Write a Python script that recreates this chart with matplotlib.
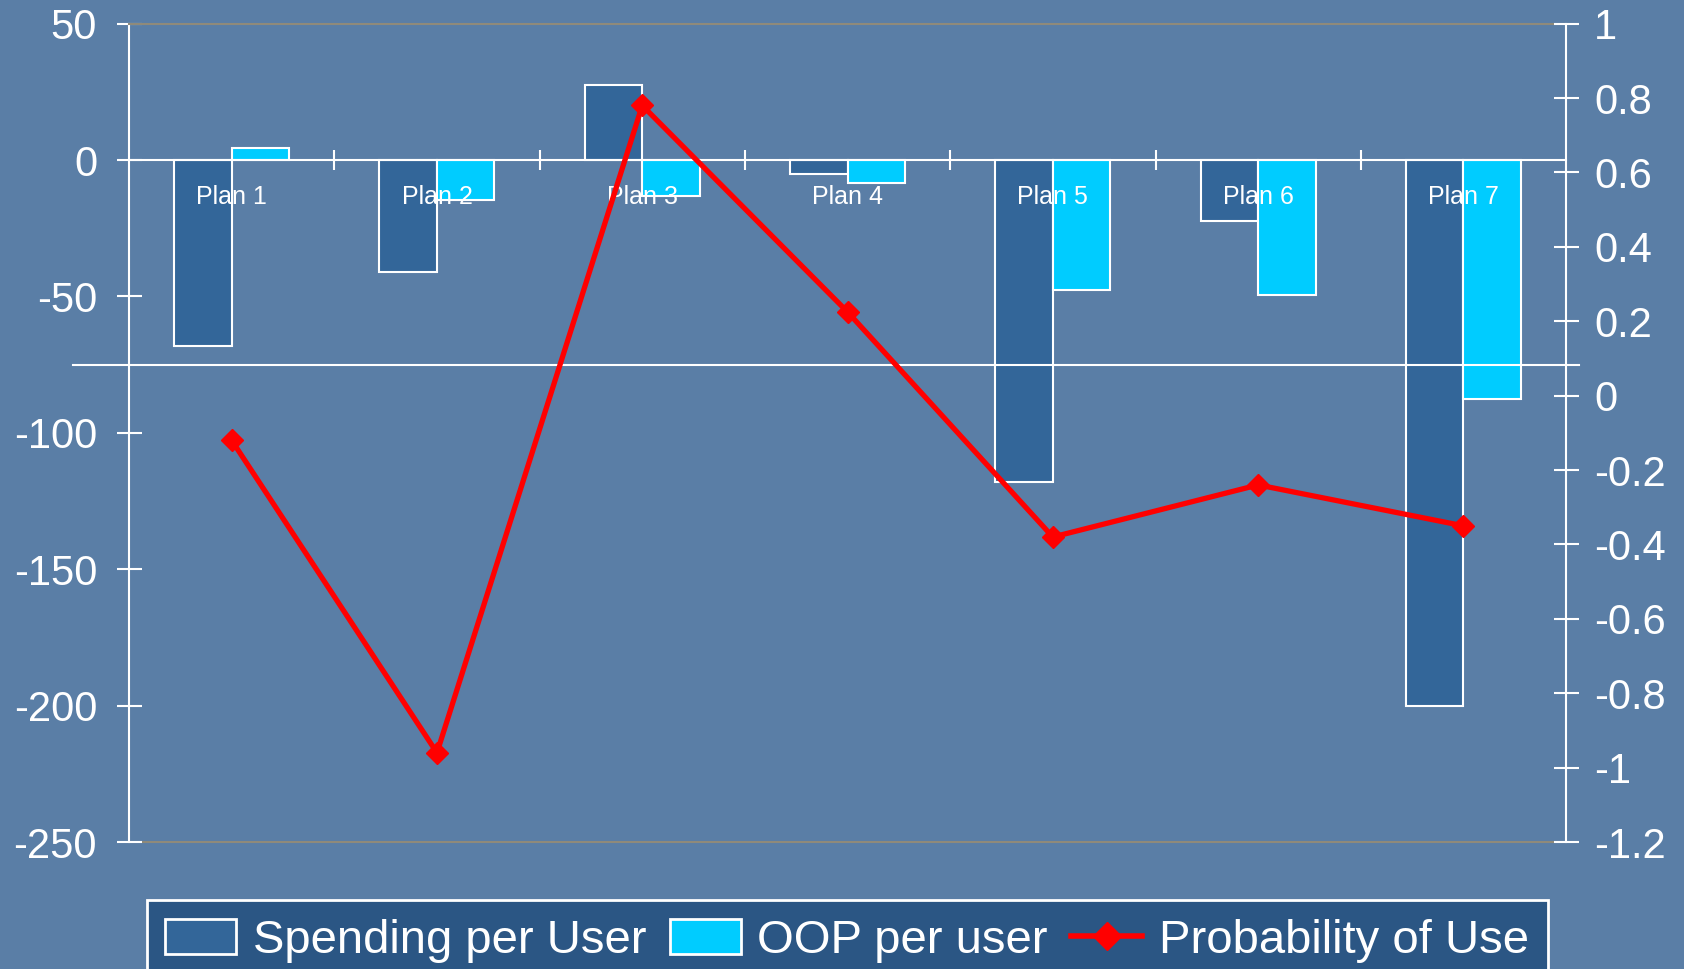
import matplotlib
matplotlib.use('Agg')
import matplotlib.pyplot as plt
import numpy as np
from matplotlib.lines import Line2D
from matplotlib.patches import Patch

plans = ['Plan 1', 'Plan 2', 'Plan 3', 'Plan 4', 'Plan 5', 'Plan 6', 'Plan 7']
spending = [-68, -41, 27.5, -5, -118, -22.5, -200]
oop = [4.5, -14.5, -13, -8.5, -47.5, -49.5, -87.5]
prob = [-0.12, -0.96, 0.78, 0.225, -0.38, -0.24, -0.35]
left_ticks = [50, 0, -50, -100, -150, -200, -250]
right_ticks = [1, 0.8, 0.6, 0.4, 0.2, 0, -0.2, -0.4, -0.6, -0.8, -1, -1.2]
series_names = ['Spending per User', 'OOP per user', 'Probability of Use']

plt.rcParams['font.family'] = ['Liberation Sans', 'DejaVu Sans']
plt.rcParams['axes.unicode_minus'] = False

BG = '#5a7ea6'
DARK = '#336699'
CYAN = '#00CCFF'
GRAY = '#8f8a7a'

fig = plt.figure(figsize=(16.84, 9.69), dpi=100, facecolor=BG)
ax = fig.add_axes([0.0766, 0.131, 0.8534, 0.8446])
ax.set_facecolor('none')

x = np.arange(len(plans))
w = 0.28
ax.bar(x - w / 2, spending, w, color=DARK, edgecolor='white', linewidth=1.5, zorder=2)
ax.bar(x + w / 2, oop, w, color=CYAN, edgecolor='white', linewidth=1.5, zorder=2)

ax.set_xlim(-0.5, len(plans) - 0.5)
ax.set_ylim(-250, 50)
ax.set_yticks(left_ticks)
ax.set_yticklabels([f'{v:g}' for v in left_ticks])
ax.tick_params(axis='y', direction='inout', length=18, width=1.5, colors='white',
               labelsize=30, pad=14)

# category labels drawn on top of the bars, just below the zero line
ax.set_xticks([])
ax.set_xticks(x[:-1] + 0.5, minor=True)
ax.tick_params(axis='x', which='minor', direction='inout', length=14, width=1.5, color='white')
for xi, name in zip(x, plans):
    ax.text(xi, -13.5, name, ha='center', va='center', fontsize=18, color='white', zorder=6)

ax.spines['left'].set_color('white')
ax.spines['left'].set_linewidth(1.5)
ax.spines['right'].set_visible(False)
ax.spines['top'].set_color(GRAY)
ax.spines['top'].set_linewidth(1.5)
ax.spines['bottom'].set_position(('data', 0))
ax.spines['bottom'].set_color('white')
ax.spines['bottom'].set_linewidth(1.5)
ax.spines['bottom'].set_zorder(3)
ax.axhline(-250, color=GRAY, linewidth=1.5, clip_on=False, zorder=1)
ax.axhline(-75, xmin=-0.039, xmax=1.009, color='white', linewidth=1.5,
           clip_on=False, zorder=3)

ax2 = ax.twinx()
ax2.set_facecolor('none')
ax2.set_ylim(-1.2, 1)
ax2.set_yticks(right_ticks)
ax2.set_yticklabels([f'{v:g}' for v in right_ticks])
ax2.tick_params(axis='y', direction='inout', length=18, width=1.5, colors='white',
                labelsize=30, pad=11)
for s in ['left', 'top', 'bottom']:
    ax2.spines[s].set_visible(False)
ax2.spines['right'].set_color('white')
ax2.spines['right'].set_linewidth(1.5)
ax2.plot(x, prob, color='red', linewidth=3.8, marker='D', markersize=11, zorder=5)

handles = [Patch(facecolor=DARK, edgecolor='white', linewidth=2),
           Patch(facecolor=CYAN, edgecolor='white', linewidth=2),
           Line2D([], [], color='red', linewidth=4, marker='D', markersize=14)]
leg = fig.legend(handles, series_names, loc='upper center', bbox_to_anchor=(0.503, 0.071),
                 ncol=3, fontsize=34, frameon=True, facecolor='#2b5684', edgecolor='white',
                 framealpha=1, fancybox=False, handlelength=1.5, handleheight=0.77,
                 handletextpad=0.35, columnspacing=0.5, borderpad=0.4, borderaxespad=0,
                 labelcolor='white')
leg.get_frame().set_linewidth(2)

fig.savefig('out.png', dpi=100, facecolor=BG)
